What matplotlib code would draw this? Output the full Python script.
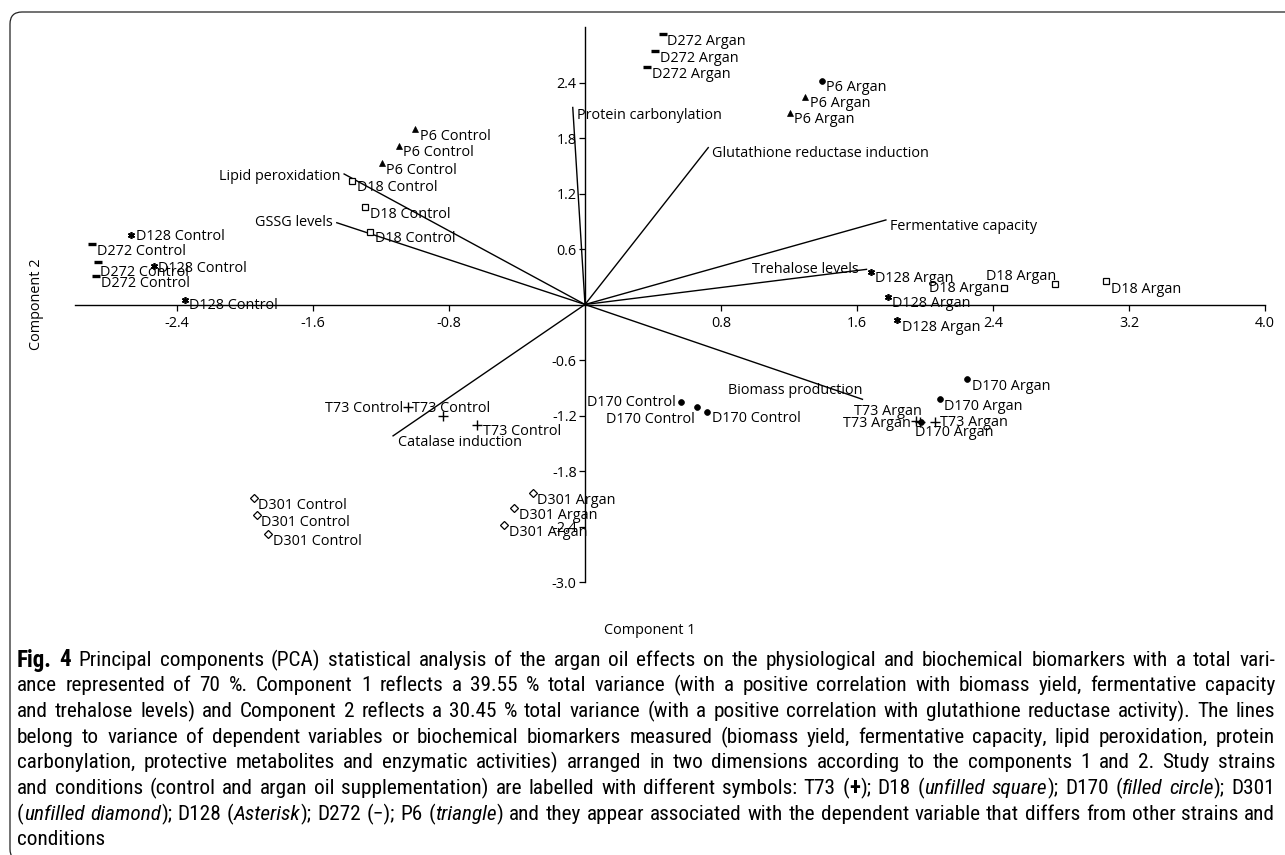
import re
import matplotlib
matplotlib.use('Agg')
import matplotlib.pyplot as plt
from matplotlib.patches import FancyBboxPatch

plt.rcParams['font.family'] = ['Open Sans', 'Noto Sans', 'DejaVu Sans']
plt.rcParams['axes.unicode_minus'] = False

# biomarker loading vectors (component 1, component 2)
loading_names = ['Protein carbonylation', 'Glutathione reductase induction',
                 'Fermentative capacity', 'Trehalose levels', 'Biomass production',
                 'Catalase induction', 'GSSG levels', 'Lipid peroxidation']
loading_x = [-0.072, 0.725, 1.77, 1.656, 1.632, -1.129, -1.46, -1.417]
loading_y = [2.13, 1.696, 0.914, 0.38, -1.025, -1.42, 0.884, 1.411]

# sample scores, three replicates per strain / condition
t73_control_x = [-1.041, -0.835, -0.634]
t73_control_y = [-1.105, -1.205, -1.30]
t73_argan_x = [1.945, 2.057, 1.97]
t73_argan_y = [-1.26, -1.265, -1.27]
d18_control_x = [-1.369, -1.292, -1.263]
d18_control_y = [1.339, 1.05, 0.787]
d18_argan_x = [2.463, 2.766, 3.066]
d18_argan_y = [0.175, 0.218, 0.254]
d170_control_x = [0.563, 0.661, 0.718]
d170_control_y = [-1.05, -1.112, -1.159]
d170_argan_x = [2.249, 2.088, 1.975]
d170_argan_y = [-0.809, -1.025, -1.274]
d301_control_x = [-1.95, -1.931, -1.864]
d301_control_y = [-2.095, -2.276, -2.485]
d301_argan_x = [-0.308, -0.416, -0.476]
d301_argan_y = [-2.04, -2.20, -2.384]
d128_control_x = [-2.668, -2.536, -2.354]
d128_control_y = [0.751, 0.416, 0.049]
d128_argan_x = [1.681, 1.782, 1.837]
d128_argan_y = [0.355, 0.084, -0.168]
d272_control_x = [-2.90, -2.862, -2.876]
d272_control_y = [0.651, 0.463, 0.308]
d272_argan_x = [0.456, 0.412, 0.365]
d272_argan_y = [2.92, 2.74, 2.564]
p6_control_x = [-1.00, -1.095, -1.196]
p6_control_y = [1.894, 1.714, 1.526]
p6_argan_x = [1.392, 1.296, 1.205]
p6_argan_y = [2.42, 2.246, 2.074]

x_ticks = [-2.4, -1.6, -0.8, 0.8, 1.6, 2.4, 3.2, 4.0]
y_ticks = [-3.0, -2.4, -1.8, -1.2, -0.6, 0.6, 1.2, 1.8, 2.4]

caption_lines = [
    '<b>Fig. 4</b>  Principal components (PCA) statistical analysis of the argan oil effects on the physiological and biochemical biomarkers with a total vari-',
    'ance represented of 70 %. Component 1 reflects a 39.55 % total variance (with a positive correlation with biomass yield, fermentative capacity',
    'and trehalose levels) and Component 2 reflects a 30.45 % total variance (with a positive correlation with glutathione reductase activity). The lines',
    'belong to variance of dependent variables or biochemical biomarkers measured (biomass yield, fermentative capacity, lipid peroxidation, protein',
    'carbonylation, protective metabolites and enzymatic activities) arranged in two dimensions according to the components 1 and 2. Study strains',
    'and conditions (control and argan oil supplementation) are labelled with different symbols: T73 (<b>+</b>); D18 (<i>unfilled square</i>); D170 (<i>filled circle</i>); D301',
    '(<i>unfilled diamond</i>); D128 (<i>Asterisk</i>); D272 (\u2212); P6 (<i>triangle</i>) and they appear associated with the dependent variable that differs from other strains and',
    'conditions',
]

W, H = 1285, 855
fig = plt.figure(figsize=(W / 100, H / 100), dpi=100)
ax = fig.add_axes([75 / W, (H - 582) / H, 1190 / W, 555 / H])
ax.set_xlim(-3.0, 4.0)
ax.set_ylim(-3.0, 3.0)

for side in ['top', 'right']:
    ax.spines[side].set_visible(False)
for side in ['left', 'bottom']:
    ax.spines[side].set_position(('data', 0))
    ax.spines[side].set_linewidth(1.0)
ax.set_xticks(x_ticks)
ax.set_yticks(y_ticks)
ax.set_xticklabels(['%.1f' % v for v in x_ticks])
ax.set_yticklabels(['%.1f' % v for v in y_ticks])
ax.tick_params(direction='out', length=4, width=0.9, labelsize=10.4, pad=2)
ax.tick_params(axis='x', pad=4)

LABEL_FS = 10.4
PT = 0.72  # pixels -> points at 100 dpi

# loading vectors with their names
loading_offsets = [(4, -7.7, 'left'), (3.3, -6.3, 'left'), (4, -7, 'left'), (-8, 0, 'right'),
                   (0, 9.3, 'right'), (5, -7, 'left'), (-4, 0, 'right'), (-4, -2.7, 'right')]
for name, lx, ly, (dx, dy, ha) in zip(loading_names, loading_x, loading_y, loading_offsets):
    ax.plot([0, lx], [0, ly], color='black', lw=1.0, zorder=1)
    ax.annotate(name, (lx, ly), xytext=(dx * PT, dy * PT), textcoords='offset points',
                ha=ha, va='center', fontsize=LABEL_FS, zorder=3)

DEF = (4.5, -7, 'left')
groups = [
    ('T73 Control', t73_control_x, t73_control_y, ['+'] * 3,
     [(3.5, -2, 'left'), (-40, 7.3, 'right'), (5.5, -7, 'left')]),
    ('T73 Argan', t73_argan_x, t73_argan_y, ['+'] * 3,
     [(-4.5, -2, 'right'), (5, -1, 'left'), (2, 10.3, 'right')]),
    ('D18 Control', d18_control_x, d18_control_y, ['s'] * 3, [DEF] * 3),
    ('D18 Argan', d18_argan_x, d18_argan_y, ['s'] * 3,
     [(-4, 0, 'right'), (1, 8, 'right'), (5, -8, 'left')]),
    ('D170 Control', d170_control_x, d170_control_y, ['o'] * 3,
     [(-5, -1, 'right'), (-3, -12, 'right'), DEF]),
    ('D170 Argan', d170_argan_x, d170_argan_y, ['o'] * 3,
     [DEF, DEF, (-6, -10.4, 'left')]),
    ('D301 Control', d301_control_x, d301_control_y, ['D'] * 3, [DEF] * 3),
    ('D301 Argan', d301_argan_x, d301_argan_y, ['D'] * 3, [DEF] * 3),
    ('D128 Control', d128_control_x, d128_control_y, [(6, 2, 0)] * 3,
     [(4.7, -1, 'left'), (4, -2, 'left'), (4, -5.7, 'left')]),
    ('D128 Argan', d128_argan_x, d128_argan_y, [(6, 2, 0)] * 3, [DEF] * 3),
    ('D272 Control', d272_control_x, d272_control_y, ['_'] * 3,
     [(4.7, -7.7, 'left'), (1.7, -11.3, 'left'), (5, -7, 'left')]),
    ('D272 Argan', d272_argan_x, d272_argan_y, ['_'] * 3, [DEF] * 3),
    ('P6 Control', p6_control_x, p6_control_y, ['^'] * 3, [DEF] * 3),
    ('P6 Argan', p6_argan_x, p6_argan_y, ['o', '^', '^'], [DEF] * 3),
]
marker_style = {
    '+': dict(ms=6.5, mew=1.0, mfc='black'),
    's': dict(ms=4.2, mew=0.9, mfc='white'),
    'o': dict(ms=4.2, mew=0.5, mfc='black'),
    'D': dict(ms=3.6, mew=0.9, mfc='white'),
    '_': dict(ms=5.5, mew=2.4, mfc='black'),
    '^': dict(ms=4.2, mew=0.5, mfc='black'),
}
for label, xs, ys, markers, offsets in groups:
    for x, y, m, (dx, dy, ha) in zip(xs, ys, markers, offsets):
        st = marker_style.get(m, dict(ms=5.0, mew=1.2, mfc='black'))
        ax.plot([x], [y], linestyle='none', marker=m, color='black', mec='black', zorder=4, **st)
        ax.annotate(label, (x, y), xytext=(dx * PT, dy * PT), textcoords='offset points',
                    ha=ha, va='center', fontsize=LABEL_FS, zorder=5)

fig.text(36 / W, 1 - 304.5 / H, 'Component 2', rotation=90, ha='center', va='center', fontsize=10.4)
fig.text(650 / W, 1 - 630 / H, 'Component 1', ha='center', va='center', fontsize=10.4)

# rounded frame round the figure
frame = FancyBboxPatch((10, -6), 1300, H - 12 + 6, boxstyle='round,pad=0,rounding_size=12',
                       transform=None, fill=False, lw=0.9, edgecolor='#222222')
fig.add_artist(frame)

# caption, justified line by line
CAP_FONT = ['Liberation Sans Narrow', 'Roboto Condensed', 'Noto Sans', 'DejaVu Sans']
renderer = fig.canvas.get_renderer()


def split_runs(line):
    runs = []
    for m in re.finditer(r'<(b|i)>(.*?)</\1>|([^<]+)', line):
        if m.group(3) is not None:
            runs.append((m.group(3), 'n'))
        else:
            runs.append((m.group(2), m.group(1)))
    words = [[]]
    for text, style in runs:
        for k, part in enumerate(text.split(' ')):
            if k > 0:
                words.append([])
            if part:
                words[-1].append((part, style))
    return [w for w in words if w]


def text_kw(style, fs):
    kw = dict(fontsize=fs, family=CAP_FONT)
    if style == 'b':
        kw.update(fontweight='bold', fontsize=fs * 1.08)
    if style == 'i':
        kw.update(fontstyle='italic')
    return kw


def width(s, style, fs):
    t = fig.text(0, 0, s, **text_kw(style, fs))
    w = t.get_window_extent(renderer).width
    t.remove()
    return w


left_px, right_px = 17, 1275
target = right_px - left_px
base_fs = 12
line_words = [split_runs(l) for l in caption_lines]
space_w = width('a a', 'n', base_fs) - width('aa', 'n', base_fs)
natural = []
for words in line_words[:-1]:
    total = sum(width(p, s, base_fs) for w in words for p, s in w)
    natural.append(total + space_w * (len(words) - 1))
cap_fs = base_fs * target / max(natural) * 0.985

line_top = 660
line_gap = 25.7
for i, words in enumerate(line_words):
    widths = [[width(p, s, cap_fs) for p, s in w] for w in words]
    total = sum(sum(ws) for ws in widths)
    if i < len(line_words) - 1 and len(words) > 1:
        gap = (target - total) / (len(words) - 1)
    else:
        gap = space_w * cap_fs / base_fs
    x = left_px
    y = 1 - (line_top + i * line_gap) / H
    for w, ws in zip(words, widths):
        for (p, s), pw in zip(w, ws):
            fig.text(x / W, y, p, va='center', ha='left', **text_kw(s, cap_fs))
            x += pw
        x += gap

fig.savefig('out.png', dpi=100)
